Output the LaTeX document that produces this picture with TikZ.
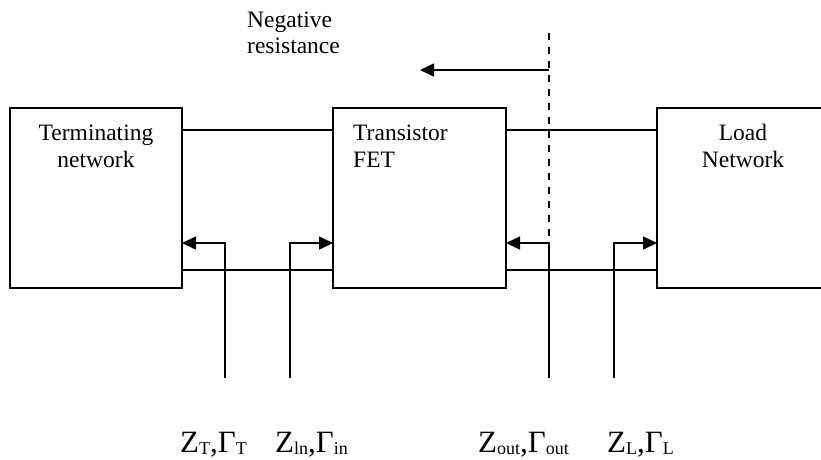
\documentclass[tikz,border=0pt]{standalone}
\usepackage{fontspec}
\setmainfont{Liberation Serif}
\usetikzlibrary{arrows.meta}
\tikzset{
 blk/.style={draw, line width=1.6pt, inner sep=0pt, outer sep=0pt, minimum height=180pt},
 wire/.style={line width=1.6pt},
 port/.style={line width=1.6pt, -{Triangle[length=14pt,width=13pt]}},
 txt/.style={inner sep=0pt, font=\fontsize{23.5}{27}\selectfont},
 lbl/.style={inner sep=0pt, anchor=base west, font=\fontsize{31}{36}\selectfont},
}
\newcommand{\sbs}[1]{\raisebox{-2pt}{\fontsize{18}{20}\selectfont #1}}
\begin{document}
\begin{tikzpicture}[x=1pt,y=-1pt]
\useasboundingbox (0,0) rectangle (821,459);
\clip (0,0) rectangle (821,459);
% blocks
\node[blk, minimum width=172pt] (term) at (96,198) {};
\node[blk, minimum width=173pt] (fet) at (419.5,198) {};
\node[blk, minimum width=172pt] (load) at (743,198) {};
% texts
\node[txt, anchor=base] (t1) at (96,140) {Terminating};
\node[txt, anchor=base] (t2) at (96,167) {network};
\node[txt, anchor=base west] (f1) at (353,140) {Transistor};
\node[txt, anchor=base west] (f2) at (353,167) {FET};
\node[txt, anchor=base] (l1) at (743,140) {Load};
\node[txt, anchor=base] (l2) at (743,167) {Network};
\node[txt, anchor=base west] (n1) at (247,27) {Negative};
\node[txt, anchor=base west] (n2) at (247,53) {resistance};
% helper coordinates
\coordinate (ytop) at (0,130);
\coordinate (ybot) at (0,270);
\coordinate (yarr) at (0,243);
\coordinate (pT) at (225,378);
\coordinate (pIn) at (290,378);
\coordinate (pOut) at (549,378);
\coordinate (pL) at (614,378);
\coordinate (dtop) at (549,33);
\coordinate (dbot) at (549,243);
\coordinate (ntip) at (420,70);
% wires
\draw[wire] (term.east |- ytop) -- (fet.west |- ytop);
\draw[wire] (fet.east |- ytop) -- (load.west |- ytop);
\draw[wire] (term.east |- ybot) -- (fet.west |- ybot);
\draw[wire] (fet.east |- ybot) -- (load.west |- ybot);
% ports
\draw[port] (pT) |- (term.east |- yarr);
\draw[port] (pIn) |- (fet.west |- yarr);
\draw[port] (pOut) |- (fet.east |- yarr);
\draw[port] (pL) |- (load.west |- yarr);
% dashed reference plane and negative resistance arrow
\draw[wire, dash pattern=on 7pt off 7pt] (dtop) -- (dbot);
\draw[port] (dtop |- ntip) -- (ntip);
% labels
\node[lbl] (zT) at (180,452) {Z\sbs{T},Γ\sbs{T}};
\node[lbl] (zin) at (275,452) {Z\sbs{ln},Γ\sbs{in}};
\node[lbl] (zout) at (478,452) {Z\sbs{out},Γ\sbs{out}};
\node[lbl] (zL) at (607,452) {Z\sbs{L},Γ\sbs{L}};
\end{tikzpicture}
\end{document}
